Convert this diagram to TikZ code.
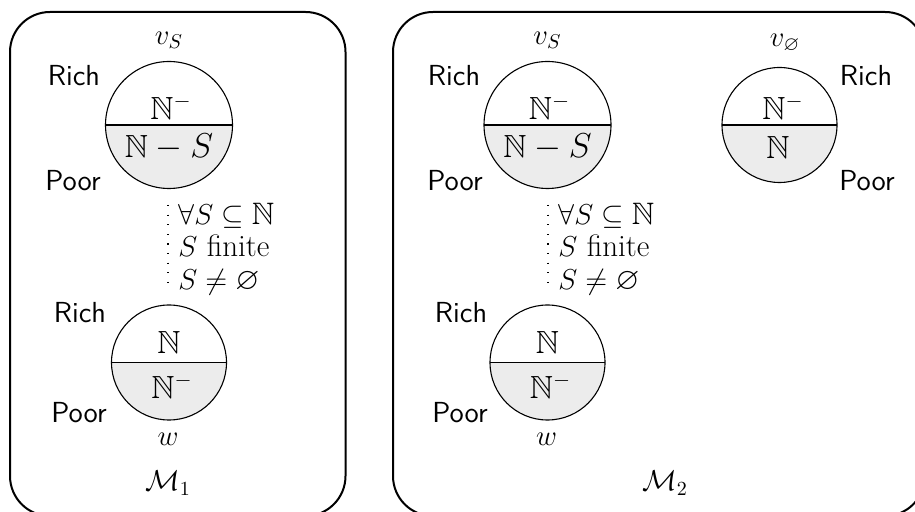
\documentclass[tikz,border=0pt]{standalone}
\usepackage{amssymb}
\tikzset{
  panel/.style={draw, line width=1pt, rounded corners=20pt},
  world/.style={circle, draw, line width=0.55pt, inner sep=0pt,
    path picture={
      \fill[gray!15] (path picture bounding box.west) rectangle (path picture bounding box.south east);
      \draw[line width=0.6pt] (path picture bounding box.west) -- (path picture bounding box.east);
    }},
  bigw/.style={minimum size=63.5pt},
  smallw/.style={minimum size=57.5pt},
  lab/.style={font=\sffamily\fontsize{14.5}{17}\selectfont, inner sep=0pt},
  mtext/.style={font=\fontsize{14.4}{17}\selectfont, inner sep=0pt},
  itext/.style={font=\fontsize{16}{18}\selectfont, inner sep=0pt},
  cond/.style={font=\fontsize{15.5}{18}\selectfont, inner sep=0pt, anchor=base west, text depth=0pt},
  condline/.style={line width=0.6pt, dash pattern=on 0.6pt off 4.2pt},
}
\begin{document}
\begin{tikzpicture}[x=0.5pt, y=-0.5pt]
\useasboundingbox (0,0) rectangle (915,512);
\clip (0,0) rectangle (915,512);
% panels
\draw[panel] (10,12) rectangle (345.5,516);
\draw[panel] (393,12) rectangle (925,516);
% ---- left panel ----
\node[world, bigw] (vS1) at (169,125) {};
\node[itext] (vS1u) at (171,107) {$\mathbb{N}^-$};
\node[itext] (vS1l) at (169,147.5) {$\mathbb{N}-S$};
\node[mtext] (vS1n) at (169,40) {$v_S$};
\node[lab] (r1) at (74,76) {Rich};
\node[lab] (p1) at (73,181) {Poor};
\node[world, smallw] (w1) at (169,362.5) {};
\node[itext] (w1u) at (169,342.5) {$\mathbb{N}$};
\node[itext] (w1l) at (172,386) {$\mathbb{N}^-$};
\node[mtext] (w1n) at (168,439) {$w$};
\node[lab] (r1b) at (80,313) {Rich};
\node[lab] (p1b) at (79,413) {Poor};
\coordinate (d1a) at (168,205);
\coordinate (d1b) at (168,288);
\draw[condline] (d1a) -- (d1b);
\node[cond] (c1a) at (178,225) {$\forall S\subseteq\mathbb{N}$};
\node[cond] (c1b) at (178,257) {$S$ finite};
\node[cond] (c1c) at (178,290) {$S\neq\varnothing$};
\node[mtext] (M1) at (168,483) {$\mathcal{M}_1$};
% ---- right panel ----
\node[world, bigw] (vS2) at (547.5,125) {};
\node[itext] (vS2u) at (549.5,107) {$\mathbb{N}^-$};
\node[itext] (vS2l) at (547.5,147.5) {$\mathbb{N}-S$};
\node[mtext] (vS2n) at (547.5,40) {$v_S$};
\node[lab] (r2) at (454,76) {Rich};
\node[lab] (p2) at (455,181) {Poor};
\node[world, smallw] (vE) at (779.5,125) {};
\node[itext] (vEu) at (783,107) {$\mathbb{N}^-$};
\node[itext] (vEl) at (778,147) {$\mathbb{N}$};
\node[mtext] (vEn) at (785,43) {$v_\varnothing$};
\node[lab] (r3) at (866,76) {Rich};
\node[lab] (p3) at (867,181) {Poor};
\node[world, smallw] (w2) at (547.5,362.5) {};
\node[itext] (w2u) at (547.5,342.5) {$\mathbb{N}$};
\node[itext] (w2l) at (550.5,386) {$\mathbb{N}^-$};
\node[mtext] (w2n) at (546.5,439) {$w$};
\node[lab] (r2b) at (461,313) {Rich};
\node[lab] (p2b) at (460,413) {Poor};
\coordinate (d2a) at (548,205);
\coordinate (d2b) at (548,288);
\draw[condline] (d2a) -- (d2b);
\node[cond] (c2a) at (558,225) {$\forall S\subseteq\mathbb{N}$};
\node[cond] (c2b) at (558,257) {$S$ finite};
\node[cond] (c2c) at (558,290) {$S\neq\varnothing$};
\node[mtext] (M2) at (665,483) {$\mathcal{M}_2$};
\end{tikzpicture}
\end{document}
